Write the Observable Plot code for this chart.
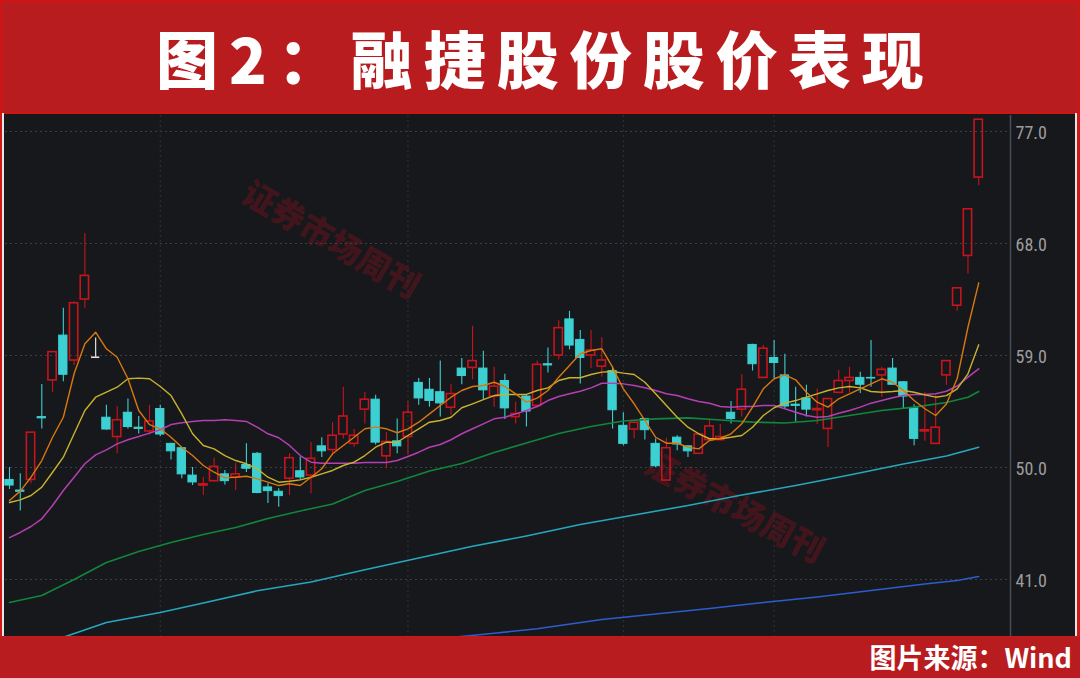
<!DOCTYPE html>
<html><head><meta charset="utf-8">
<script src="https://cdn.jsdelivr.net/npm/d3@7"></script>
<script src="https://cdn.jsdelivr.net/npm/@observablehq/plot@0.6"></script>
<style>
body{margin:0;background:#16181c;}
#wrap{position:relative;width:1080px;height:678px;overflow:hidden;background:#16181c;}
#title{position:absolute;left:0;top:0;width:1080px;height:114px;background:#b91c1f;border:2px solid #cf1414;box-sizing:border-box;color:#fff;font-family:"Noto Sans CJK SC",sans-serif;font-weight:900;font-size:62px;letter-spacing:11px;text-align:center;line-height:110px;white-space:nowrap;padding-left:11px;}
#chart{position:absolute;left:0;top:115px;width:1080px;height:521px;}
#foot{position:absolute;left:0;top:636px;width:1080px;height:42px;background:#b91c1f;border-top:1px solid #c8191d;box-sizing:border-box;color:#fff;font-family:"Noto Sans CJK SC",sans-serif;font-weight:700;font-size:27px;line-height:40px;text-align:right;padding-right:8px;}
.edgeL{position:absolute;left:0;top:113px;width:2px;height:523px;background:#d01818;}
.edgeL2{position:absolute;left:2px;top:113px;width:2px;height:523px;background:#e6e6e6;}
.edgeR{position:absolute;right:0;top:113px;width:3px;height:523px;background:#d01818;}
.edgeR2{position:absolute;right:3px;top:113px;width:2px;height:523px;background:#e6e6e6;}
.wm{position:absolute;color:rgba(150,18,30,0.36);font-family:"Noto Sans CJK SC",sans-serif;font-weight:900;font-size:33px;white-space:nowrap;transform-origin:center center;}
</style></head>
<body>
<div id="wrap">
  <div id="title">图2：融捷股份股价表现</div>
  <div class="wm" id="wm1">证券市场周刊</div>
  <div class="wm" id="wm2">证券市场周刊</div>
  <div id="chart"></div>
  <div class="edgeL"></div><div class="edgeL2"></div>
  <div class="edgeR"></div><div class="edgeR2"></div>
  <div id="foot">图片来源：Wind</div>
</div>
<script>
// ---- data ----
const opens  = [49.0,48.15,49.0,54.05,57.0,60.6,58.6,63.5,58.86,54.0,52.45,54.4,53.2,52.9,54.7,51.9,51.55,49.35,48.55,48.9,49.45,49.2,50.2,51.1,48.4,48.05,49.1,49.7,49.35,51.7,51.4,52.65,51.9,54.65,55.45,50.9,52.1,52.45,56.8,56.25,56.05,54.8,57.95,58.0,57.95,55.7,56.95,54.05,55.7,54.95,58.3,59.0,61.9,60.25,59.0,58.1,57.75,53.35,53.05,53.9,51.9,48.95,52.4,51.7,51.1,52.2,52.2,54.4,54.65,59.85,57.2,58.8,57.4,55.05,55.55,54.6,53.1,56.0,56.95,57.2,57.2,57.4,57.95,56.85,54.75,52.9,51.9,57.4,63.0,67.0,73.3];
const closes = [48.55,48.05,52.8,53.95,59.27,57.45,63.2,65.4,58.86,53.05,53.8,53.25,53.1,53.7,52.65,51.3,49.45,48.8,48.65,50.05,48.9,49.45,49.9,47.95,48.1,47.7,50.75,49.2,50.7,51.3,52.55,54.1,52.55,55.45,52.0,52.05,51.7,54.4,55.55,55.35,55.15,55.9,57.35,58.55,56.2,56.5,54.75,54.3,54.5,58.25,58.2,61.2,59.8,58.8,59.4,58.6,54.6,51.9,53.6,53.0,50.1,51.55,51.85,51.3,52.65,53.3,52.45,53.9,56.25,58.3,59.55,58.4,54.9,54.95,54.65,54.7,55.5,56.95,57.2,56.65,57.15,57.85,56.65,55.7,52.3,53.0,53.2,58.55,64.4,70.75,77.95];
const highs  = [50.0,49.5,52.8,56.67,59.3,62.8,63.3,68.8,60.4,55.0,54.9,55.5,54.1,55.0,55.0,51.95,51.6,50.0,49.2,50.75,49.76,50.35,51.9,51.2,48.7,48.3,51.1,50.85,52.0,52.4,53.6,56.45,53.05,56.05,55.8,52.8,53.9,55.3,57.15,57.15,58.55,56.65,58.75,61.35,59.35,58.05,57.5,55.25,55.8,58.55,59.6,61.8,62.55,61.0,61.0,60.45,58.1,54.4,53.6,53.9,52.3,52.35,52.55,51.7,52.75,53.9,53.45,55.3,57.45,59.9,59.8,60.2,59.1,56.45,56.6,56.3,55.5,57.8,58.05,57.65,60.2,58.05,58.75,56.9,55.05,56.05,55.8,58.55,64.4,70.75,77.95];
const lows   = [48.23,46.5,48.7,53.1,56.05,56.9,58.2,62.8,58.86,53.0,51.1,53.1,52.7,52.6,52.5,50.6,49.1,48.55,47.75,48.8,48.6,48.15,49.6,47.9,47.1,46.8,47.75,49.0,47.9,50.8,51.0,52.3,51.6,53.5,51.8,49.9,51.1,51.0,55.0,54.85,54.05,54.2,56.65,57.05,55.45,54.85,53.85,53.5,53.25,54.85,57.6,58.65,59.45,56.7,57.95,57.25,53.1,51.75,52.3,52.2,50.0,48.95,51.35,50.8,51.1,52.1,52.15,53.5,54.05,57.75,57.15,57.15,54.7,53.65,54.05,53.45,51.6,55.95,56.0,55.95,56.45,55.65,56.6,54.7,51.75,52.1,51.9,56.6,62.55,65.55,72.65];

const ma5  = [47.35,48.1,49.22,50.56,52.43,54.04,57.53,59.94,60.87,59.54,58.86,57.13,54.58,53.45,53.11,52.43,51.63,50.96,50.16,49.62,49.17,49.22,49.3,49.09,48.82,48.55,48.69,48.55,49.22,49.9,51.1,51.77,52.43,53.11,53.24,53.11,52.79,53.11,53.64,54.31,54.98,55.65,56.19,56.51,56.59,56.85,56.51,55.92,55.25,55.57,56.19,57.26,58.2,59.14,59.4,59.54,58.06,56.32,55.12,53.78,52.43,51.95,51.95,51.63,51.5,52.17,52.35,52.71,53.51,54.85,56.32,57.13,57.45,57.05,56.05,55.25,54.85,55.52,55.92,56.32,56.72,57.13,56.85,56.19,55.38,54.72,54.18,55.1,57.15,61.27,64.84];
const ma10 = [47.19,47.4,47.75,48.42,49.62,50.83,52.71,54.58,55.65,56.05,56.45,57.13,57.18,57.13,56.51,55.78,54.31,52.71,51.77,51.5,50.96,50.56,50.3,49.9,49.22,48.82,48.9,49.01,49.22,49.49,49.76,50.16,50.43,50.96,51.63,52.03,52.03,52.57,53.11,53.64,53.78,54.04,54.8,55.12,55.46,55.78,55.87,55.87,55.87,56.19,56.4,56.99,57.21,57.21,57.47,57.66,57.71,57.58,57.47,56.85,55.92,54.98,54.04,53.24,52.71,52.31,52.31,52.43,52.57,53.24,54.18,54.8,55.17,55.38,55.65,55.92,56.19,56.4,56.51,56.4,56.11,56.05,56.11,56.19,56.05,55.84,55.65,55.78,56.32,57.53,59.86];
const ma20 = [44.37,44.78,45.26,45.88,46.95,48.15,49.22,50.3,51.02,51.42,51.9,52.23,52.49,52.76,53.03,53.45,53.59,53.7,53.78,53.78,53.83,53.78,53.7,53.24,52.71,52.39,51.77,50.96,50.43,50.35,50.35,50.35,50.35,50.4,50.4,50.4,50.56,50.88,51.23,51.63,51.85,52.23,52.71,53.11,53.51,53.91,54.04,54.31,54.58,54.9,55.38,55.7,55.92,56.13,56.4,56.77,56.77,56.72,56.59,56.4,56.19,55.92,55.78,55.52,55.3,55.17,54.9,54.85,54.9,54.9,54.98,54.98,54.72,54.44,54.18,54.04,54.1,54.36,54.58,54.85,55.17,55.38,55.6,55.78,55.87,55.87,55.92,56.13,56.55,57.26,57.93];
const ma60Day = [0,3,6,9,12,15,18,21,24,27,30,33,36,39,42,45,48,51,54,57,60,63,66,69,72,75,78,81,84,87,89,90];
const ma60Val = [39.15,39.71,41.0,42.37,43.25,43.97,44.62,45.18,45.9,46.5,47.07,48.15,48.87,49.72,50.32,51.2,51.97,52.73,53.29,53.74,53.91,53.99,53.82,53.65,53.58,53.78,54.18,54.58,54.85,55.22,55.65,56.11];
const ma120Day = [4,5,9,14,18,23,28,33,38,43,48,53,58,63,68,73,78,83,87,90];
const ma120Val = [36.1,36.36,37.54,38.35,39.11,40.09,40.8,41.78,42.73,43.67,44.5,45.42,46.18,46.95,47.79,48.55,49.4,50.28,50.92,51.63];
const ma250Day = [41,45,49,55,60,65,70,75,80,85,88,90];
const ma250Val = [36.34,36.68,37.04,37.79,38.23,38.67,39.15,39.59,40.11,40.64,40.92,41.24];
const yTicks = [41,50,59,68,77];
const monthStarts = [14,37,57,71];

// ---- layout constants ----
const RED = "#c8141c", CYAN = "#3dd0d2";
const xEnd = 92.95, half = 0.385;

const candles = opens.map((o,i)=>({i,o,c:closes[i],h:highs[i],l:lows[i]}));
const up = candles.filter(d=>d.c>d.o);
const down = candles.filter(d=>d.c<d.o);
const flat = candles.filter(d=>d.c===d.o);
const days = opens.map((_,i)=>i);
const series = (xs, ys) => xs.map((x,j)=>({x, y: ys[j]}));

const chart = Plot.plot({
  width:1080, height:521,
  marginLeft:0, marginRight:70, marginTop:0, marginBottom:0,
  style:{background:"transparent", overflow:"visible"},
  x:{type:"linear", domain:[-0.5,xEnd], range:[3.6,1010], axis:null},
  y:{domain:[41,77], range:[464,16], axis:null},
  marks:[
    Plot.ruleY(yTicks,{stroke:"#3b3f47", strokeDasharray:"2,3"}),
    Plot.ruleX(monthStarts,{stroke:"#30333a", strokeDasharray:"2,3"}),
    Plot.ruleX([xEnd],{stroke:"#4a4d53", strokeWidth:1.5}),
    // wicks
    Plot.ruleX(down,{x:"i", y1:"l", y2:"h", stroke:CYAN, strokeWidth:1.1}),
    Plot.ruleX(up,{x:"i", y1:"h", y2:"c", stroke:RED, strokeWidth:1.1}),
    Plot.ruleX(up,{x:"i", y1:"o", y2:"l", stroke:RED, strokeWidth:1.1}),
    Plot.ruleX(flat,{x:"i", y1:"l", y2:"h", stroke:"#e0e0e0", strokeWidth:1.2}),
    // bodies
    Plot.rect(down,{x1:d=>d.i-half, x2:d=>d.i+half, y1:"o", y2:"c", fill:CYAN, stroke:CYAN, strokeWidth:1}),
    Plot.rect(up,{x1:d=>d.i-half, x2:d=>d.i+half, y1:"o", y2:"c", fill:"none", stroke:RED, strokeWidth:1.6}),
    Plot.ruleY(flat,{y:"c", x1:d=>d.i-half, x2:d=>d.i+half, stroke:"#e0e0e0", strokeWidth:1.6}),
    // moving averages
    Plot.line(series(ma250Day,ma250Val),{x:"x", y:"y", stroke:"#2e5ccc", strokeWidth:1.6, clip:true}),
    Plot.line(series(ma120Day,ma120Val),{x:"x", y:"y", stroke:"#26a7bd", strokeWidth:1.6, clip:true}),
    Plot.line(series(ma60Day,ma60Val),{x:"x", y:"y", stroke:"#10873a", strokeWidth:1.6, clip:true}),
    Plot.line(series(days,ma20),{x:"x", y:"y", stroke:"#b53fb3", strokeWidth:1.5, clip:true}),
    Plot.line(series(days,ma10),{x:"x", y:"y", stroke:"#c9b32c", strokeWidth:1.4, clip:true}),
    Plot.line(series(days,ma5),{x:"x", y:"y", stroke:"#d9780f", strokeWidth:1.4, clip:true}),
    Plot.axisY(yTicks,{anchor:"right", tickSize:0, tickPadding:5, tickFormat:d=>d.toFixed(1),
      fill:"#9c9c9c", fontSize:18, fontFamily:"'Liberation Sans Narrow','Roboto Condensed',Roboto,sans-serif", dy:2, label:null})
  ]
});
document.getElementById("chart").appendChild(chart);

// watermarks
function place(id, cx, cy, deg){
  const el = document.getElementById(id);
  const w = el.offsetWidth, h = el.offsetHeight;
  el.style.left = (cx - w/2) + "px";
  el.style.top = (cy - h/2) + "px";
  el.style.transform = `rotate(${deg}deg)`;
}
place("wm1", 332, 238, 30);
place("wm2", 735, 505, 28);
</script>
</body></html>
